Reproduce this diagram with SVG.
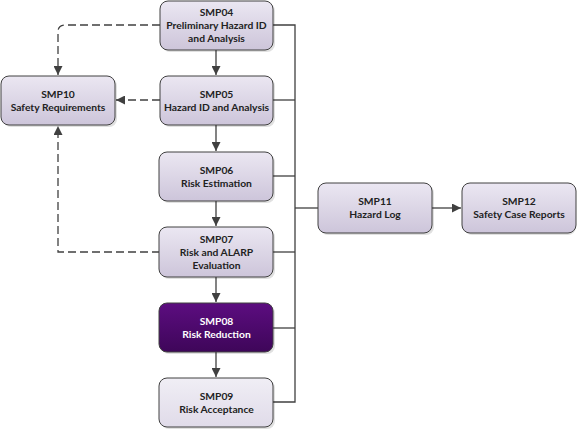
<svg xmlns="http://www.w3.org/2000/svg" width="578" height="430" viewBox="0 0 578 430">
<defs>
<linearGradient id="g" x1="0" y1="0" x2="0" y2="1">
<stop offset="0" stop-color="#ebe7f2"/>
<stop offset="1" stop-color="#cdc5da"/>
</linearGradient>
<linearGradient id="gp" x1="0" y1="0" x2="0" y2="1">
<stop offset="0" stop-color="#5c0d80"/>
<stop offset="1" stop-color="#3e0659"/>
</linearGradient>
<linearGradient id="gl" x1="0" y1="0" x2="0" y2="1">
<stop offset="0" stop-color="#f0eef5"/>
<stop offset="1" stop-color="#e0dbe9"/>
</linearGradient>
<marker id="ah" viewBox="0 0 10 10" refX="10" refY="5" markerWidth="9" markerHeight="9" markerUnits="userSpaceOnUse" orient="auto">
<path d="M0,0 L10,5 L0,10 z" fill="#404040"/>
</marker>
</defs>
<style>
.box{fill:url(#g);stroke:#404040;stroke-width:1}
.sh{fill:#000;opacity:0.12}
.t{font-family:Lato,"Open Sans","Liberation Sans",sans-serif;font-weight:bold;font-size:10.3px;fill:#222222;text-anchor:middle}
.tw{fill:#ffffff}
.ln{fill:none;stroke:#404040;stroke-width:1.3}
.ds{fill:none;stroke:#404040;stroke-width:1.3;stroke-dasharray:8,4}
</style>
<g id="connectors">
<path class="ln" d="M273,25 H295 V402 H273"/>
<path class="ln" d="M273,100 H295"/>
<path class="ln" d="M273,176 H295"/>
<path class="ln" d="M273,252 H295"/>
<path class="ln" d="M273,328 H295"/>
<path class="ln" d="M295,208 H318"/>
<path class="ln" d="M432,208 H461" marker-end="url(#ah)"/>
<path class="ln" d="M216,50 V75" marker-end="url(#ah)"/>
<path class="ln" d="M216,125 V151" marker-end="url(#ah)"/>
<path class="ln" d="M216,201 V226" marker-end="url(#ah)"/>
<path class="ln" d="M216,277 V302" marker-end="url(#ah)"/>
<path class="ln" d="M216,352 V377" marker-end="url(#ah)"/>
<path class="ds" d="M160,25 H65 Q58,25 58,32 V75" marker-end="url(#ah)"/>
<path class="ds" d="M160,100 H116" marker-end="url(#ah)"/>
<path class="ds" d="M160,252 H58 V126" marker-end="url(#ah)"/>
</g>
<g id="SMP04">
<rect class="sh" x="162" y="3" width="113" height="49" rx="8"/>
<rect class="box" x="160" y="1" width="113" height="49" rx="8"/>
<text class="t" x="216.5" y="16">SMP04</text>
<text class="t" x="216.5" y="29">Preliminary Hazard ID</text>
<text class="t" x="216.5" y="41.5">and Analysis</text>
</g>
<g id="SMP05">
<rect class="sh" x="162" y="78" width="113" height="49" rx="8"/>
<rect class="box" x="160" y="76" width="113" height="49" rx="8"/>
<text class="t" x="216.5" y="97.5">SMP05</text>
<text class="t" x="216.5" y="110.5">Hazard ID and Analysis</text>
</g>
<g id="SMP10">
<rect class="sh" x="3" y="78" width="114" height="49" rx="8"/>
<rect class="box" x="1" y="76" width="114" height="49" rx="8"/>
<text class="t" x="58" y="97.5">SMP10</text>
<text class="t" x="58" y="110.5">Safety Requirements</text>
</g>
<g id="SMP06">
<rect class="sh" x="161" y="154" width="114" height="49" rx="8"/>
<rect class="box" x="159" y="152" width="114" height="49" rx="8"/>
<text class="t" x="216.5" y="173.5">SMP06</text>
<text class="t" x="216.5" y="186.5">Risk Estimation</text>
</g>
<g id="SMP07">
<rect class="sh" x="161" y="229" width="114" height="50" rx="8"/>
<rect class="box" x="159" y="227" width="114" height="50" rx="8"/>
<text class="t" x="216.5" y="243">SMP07</text>
<text class="t" x="216.5" y="256">Risk and ALARP</text>
<text class="t" x="216.5" y="268.5">Evaluation</text>
</g>
<g id="SMP08">
<rect class="sh" x="161" y="305" width="114" height="49" rx="8"/>
<rect x="159" y="303" width="114" height="49" rx="8" fill="url(#gp)" stroke="#404040" stroke-width="1"/>
<text class="t tw" x="216.5" y="324.5">SMP08</text>
<text class="t tw" x="216.5" y="337.5">Risk Reduction</text>
</g>
<g id="SMP09">
<rect class="sh" x="161" y="380" width="114" height="49" rx="8"/>
<rect x="159" y="378" width="114" height="49" rx="8" fill="url(#gl)" stroke="#404040" stroke-width="1"/>
<text class="t" x="216.5" y="399.5">SMP09</text>
<text class="t" x="216.5" y="412.5">Risk Acceptance</text>
</g>
<g id="SMP11">
<rect class="sh" x="320" y="185" width="114" height="50" rx="8"/>
<rect class="box" x="318" y="183" width="114" height="50" rx="8"/>
<text class="t" x="375" y="205">SMP11</text>
<text class="t" x="375" y="218">Hazard Log</text>
</g>
<g id="SMP12">
<rect class="sh" x="464" y="185" width="112" height="50" rx="8"/>
<rect class="box" x="462" y="183" width="114" height="50" rx="8"/>
<text class="t" x="519" y="205">SMP12</text>
<text class="t" x="519" y="218">Safety Case Reports</text>
</g>
</svg>
